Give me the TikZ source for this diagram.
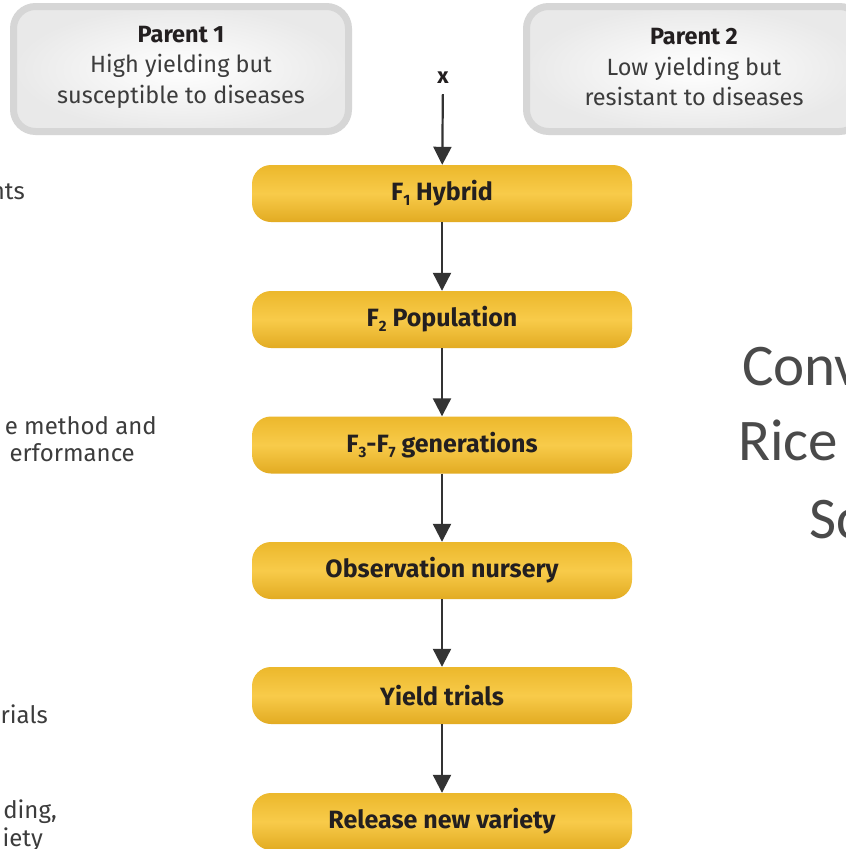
\documentclass[tikz,border=0pt]{standalone}
\usepackage{fontspec}
\setmainfont{Fira Sans}
\newfontfamily\headfont{Carlito}
\usetikzlibrary{arrows.meta}

\definecolor{inkdark}{HTML}{231F20}
\definecolor{greytext}{HTML}{3C3C3C}
\definecolor{headgrey}{HTML}{4A4A4A}
\definecolor{parentedge}{HTML}{D6D6D6}
\definecolor{parentfill}{HTML}{E9E9E9}
\definecolor{goldtop}{HTML}{ECB82C}
\definecolor{goldmid}{HTML}{F8CB4A}
\definecolor{goldbot}{HTML}{E2AB22}
\definecolor{arrowgrey}{HTML}{333333}

% small lowered index for generation labels (F1, F2, ...)
\newcommand\lowidx[1]{\raisebox{-0.35ex}{\fontsize{15}{15}\selectfont #1}}

\tikzset{
  parentbox/.style={rectangle, rounded corners=22pt, draw=parentedge,
    line width=7pt, inner color=white, outer color=parentfill,
    minimum width=335pt, minimum height=125pt, align=center,
    text=greytext, font=\fontsize{23.5}{30.5}\selectfont},
  stagebox/.style={rectangle, rounded corners=19pt,
    top color=goldtop, bottom color=goldbot, middle color=goldmid,
    minimum width=380pt, minimum height=57pt, inner sep=0pt,
    text=inkdark, font=\bfseries\fontsize{25}{28}\selectfont},
  flow/.style={draw=arrowgrey, line width=2.2pt,
    -{Triangle[width=18pt,length=18pt]}},
  sidetext/.style={anchor=base east, inner sep=0pt, text=greytext,
    font=\fontsize{24}{28}\selectfont},
  headtext/.style={anchor=base west, inner sep=0pt, text=headgrey,
    font=\headfont\fontsize{59}{75}\selectfont},
}

\begin{document}
\begin{tikzpicture}[x=1pt, y=-1pt]
\useasboundingbox (0,0) rectangle (846,849);
\fill[white] (0,0) rectangle (846,849);
\clip (0,0) rectangle (846,849);

% the two parents of the cross
\node[parentbox, text depth=0pt] (p1) at (181,69)
  {{\bfseries\color{inkdark}Parent 1}\\High yielding but\\susceptible to diseases\vspace{4pt}};
\node[parentbox, text depth=0pt] (p2) at (694,69)
  {{\bfseries\color{inkdark}Parent 2}\\Low yielding but\\resistant to diseases\vspace{4pt}};

\node[anchor=base, inner sep=0pt, text=inkdark,
      font=\bfseries\fontsize{22}{26}\selectfont] (cross) at (443,83) {x};

% breeding stages
\node[stagebox] (f1)  at (442,193.5) {F\lowidx{1} Hybrid};
\node[stagebox] (f2)  at (442,319.5) {F\lowidx{2} Population};
\node[stagebox] (f37) at (442,445)   {F\lowidx{3}-F\lowidx{7} generations};
\node[stagebox] (obs) at (442,570.5) {Observation nursery};
\node[stagebox] (yt)  at (442,695.5) {Yield trials};
\node[stagebox] (rel) at (442,821.5) {Release new variety};

\draw[flow, shorten <=11pt] (cross) -- (f1);
\draw[flow] (f1) -- (f2);
\draw[flow] (f2) -- (f37);
\draw[flow] (f37) -- (obs);
\draw[flow] (obs) -- (yt);
\draw[flow] (yt) -- (rel);

% notes running in from the left margin
\node[sidetext] (n1) at (25,199) {nts};
\node[sidetext] (n2) at (157,434) {e method and};
\node[sidetext] (n3) at (135,461) {erformance};
\node[sidetext] (n4) at (48,723) {rials};
\node[sidetext] (n5) at (57,818) {ding,};
\node[sidetext] (n6) at (43,846) {iety};

% heading on the right
\node[headtext] (h1) at (742,385) {Conv};
\node[headtext] (h2) at (738,460) {Rice};
\node[headtext] (h3) at (809,538) {Sc};
\end{tikzpicture}
\end{document}
